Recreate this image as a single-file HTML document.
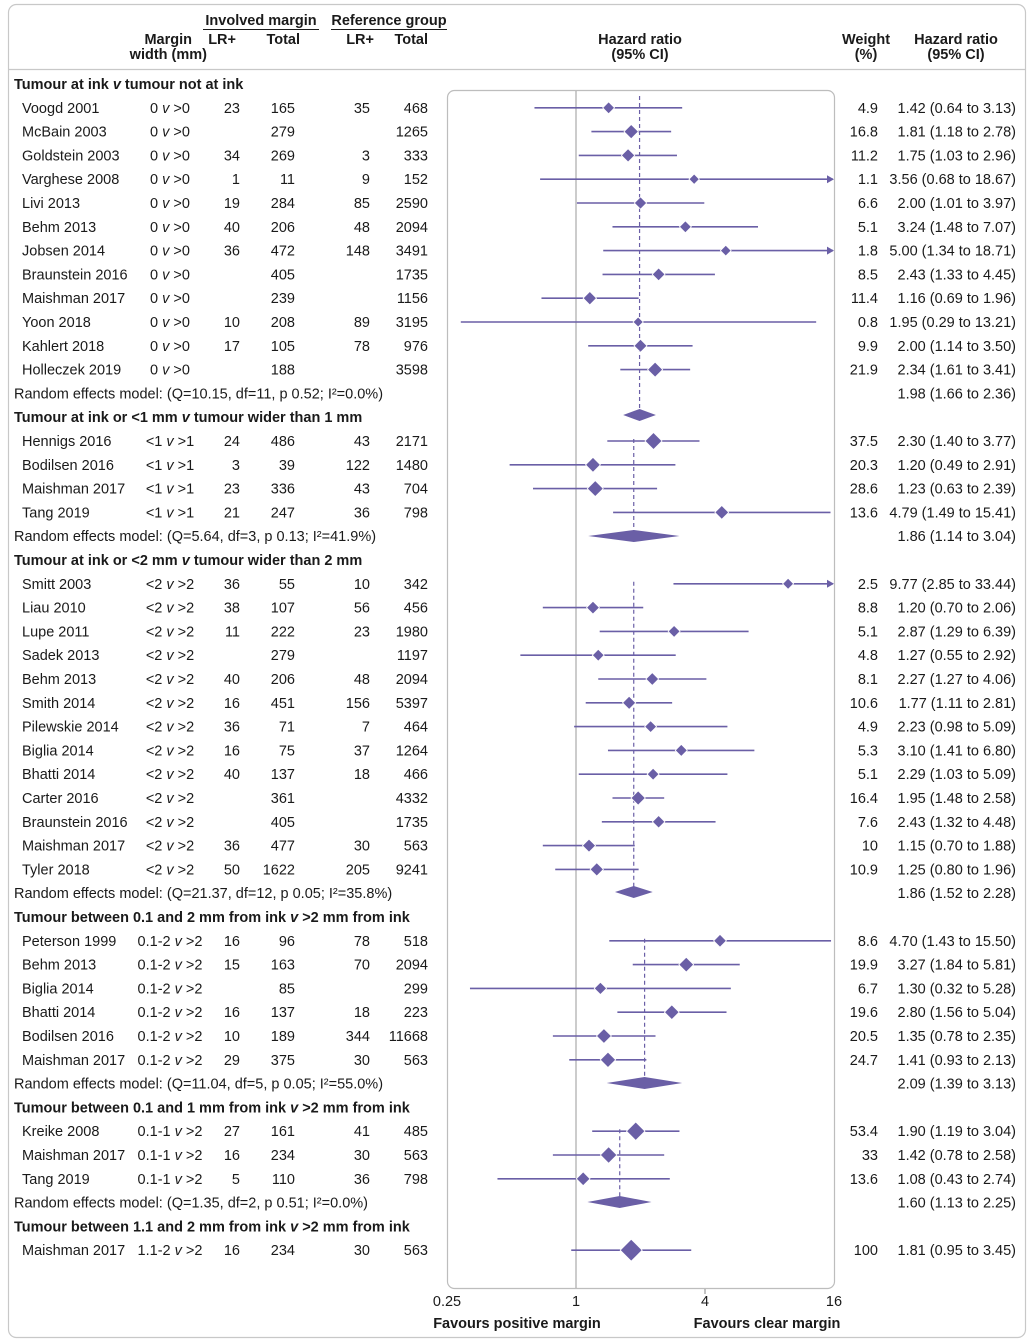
<!DOCTYPE html>
<html><head><meta charset="utf-8"><style>
body{margin:0;background:#fff;}
svg{display:block;font-family:"Liberation Sans",sans-serif;}
</style></head><body>
<svg id="c" width="1034" height="1342" xmlns="http://www.w3.org/2000/svg"></svg>
<script>
// type: h=heading, s=study, r=random-effects
const rowTypes=["h","s","s","s","s","s","s","s","s","s","s","s","s","r","h","s","s","s","s","r","h","s","s","s","s","s","s","s","s","s","s","s","s","s","r","h","s","s","s","s","s","s","r","h","s","s","s","r","h","s"];
const labels=["Tumour at ink v tumour not at ink","Voogd 2001","McBain 2003","Goldstein 2003","Varghese 2008","Livi 2013","Behm 2013","Jobsen 2014","Braunstein 2016","Maishman 2017","Yoon 2018","Kahlert 2018","Holleczek 2019","Random effects model: (Q=10.15, df=11, p 0.52; I²=0.0%)",
"Tumour at ink or <1 mm v tumour wider than 1 mm","Hennigs 2016","Bodilsen 2016","Maishman 2017","Tang 2019","Random effects model: (Q=5.64, df=3, p 0.13; I²=41.9%)",
"Tumour at ink or <2 mm v tumour wider than 2 mm","Smitt 2003","Liau 2010","Lupe 2011","Sadek 2013","Behm 2013","Smith 2014","Pilewskie 2014","Biglia 2014","Bhatti 2014","Carter 2016","Braunstein 2016","Maishman 2017","Tyler 2018","Random effects model: (Q=21.37, df=12, p 0.05; I²=35.8%)",
"Tumour between 0.1 and 2 mm from ink v >2 mm from ink","Peterson 1999","Behm 2013","Biglia 2014","Bhatti 2014","Bodilsen 2016","Maishman 2017","Random effects model: (Q=11.04, df=5, p 0.05; I²=55.0%)",
"Tumour between 0.1 and 1 mm from ink v >2 mm from ink","Kreike 2008","Maishman 2017","Tang 2019","Random effects model: (Q=1.35, df=2, p 0.51; I²=0.0%)",
"Tumour between 1.1 and 2 mm from ink v >2 mm from ink","Maishman 2017"];
const margins=["","0 v >0","0 v >0","0 v >0","0 v >0","0 v >0","0 v >0","0 v >0","0 v >0","0 v >0","0 v >0","0 v >0","0 v >0","","","<1 v >1","<1 v >1","<1 v >1","<1 v >1","","","<2 v >2","<2 v >2","<2 v >2","<2 v >2","<2 v >2","<2 v >2","<2 v >2","<2 v >2","<2 v >2","<2 v >2","<2 v >2","<2 v >2","<2 v >2","","","0.1-2 v >2","0.1-2 v >2","0.1-2 v >2","0.1-2 v >2","0.1-2 v >2","0.1-2 v >2","","","0.1-1 v >2","0.1-1 v >2","0.1-1 v >2","","","1.1-2 v >2"];
const invLR=["","23","","34","1","19","40","36","","","10","17","","","","24","3","23","21","","","36","38","11","","40","16","36","16","40","","","36","50","","","16","15","","16","10","29","","","27","16","5","","","16"];
const invTot=["","165","279","269","11","284","206","472","405","239","208","105","188","","","486","39","336","247","","","55","107","222","279","206","451","71","75","137","361","405","477","1622","","","96","163","85","137","189","375","","","161","234","110","","","234"];
const refLR=["","35","","3","9","85","48","148","","","89","78","","","","43","122","43","36","","","10","56","23","","48","156","7","37","18","","","30","205","","","78","70","","18","344","30","","","41","30","36","","","30"];
const refTot=["","468","1265","333","152","2590","2094","3491","1735","1156","3195","976","3598","","","2171","1480","704","798","","","342","456","1980","1197","2094","5397","464","1264","466","4332","1735","563","9241","","","518","2094","299","223","11668","563","","","485","563","798","","","563"];
const weights=["","4.9","16.8","11.2","1.1","6.6","5.1","1.8","8.5","11.4","0.8","9.9","21.9","","","37.5","20.3","28.6","13.6","","","2.5","8.8","5.1","4.8","8.1","10.6","4.9","5.3","5.1","16.4","7.6","10","10.9","","","8.6","19.9","6.7","19.6","20.5","24.7","","","53.4","33","13.6","","","100"];
const hr=[0,1.42,1.81,1.75,3.56,2.00,3.24,5.00,2.43,1.16,1.95,2.00,2.34,1.98,0,2.30,1.20,1.23,4.79,1.86,0,9.77,1.20,2.87,1.27,2.27,1.77,2.23,3.10,2.29,1.95,2.43,1.15,1.25,1.86,0,4.70,3.27,1.30,2.80,1.35,1.41,2.09,0,1.90,1.42,1.08,1.60,0,1.81];
const lo=[0,0.64,1.18,1.03,0.68,1.01,1.48,1.34,1.33,0.69,0.29,1.14,1.61,1.66,0,1.40,0.49,0.63,1.49,1.14,0,2.85,0.70,1.29,0.55,1.27,1.11,0.98,1.41,1.03,1.48,1.32,0.70,0.80,1.52,0,1.43,1.84,0.32,1.56,0.78,0.93,1.39,0,1.19,0.78,0.43,1.13,0,0.95];
const hi=[0,3.13,2.78,2.96,18.67,3.97,7.07,18.71,4.45,1.96,13.21,3.50,3.41,2.36,0,3.77,2.91,2.39,15.41,3.04,0,33.44,2.06,6.39,2.92,4.06,2.81,5.09,6.80,5.09,2.58,4.48,1.88,1.96,2.28,0,15.50,5.81,5.28,5.04,2.35,2.13,3.13,0,3.04,2.58,2.74,2.25,0,3.45];
const pooledRow=[13,19,34,42,47];
const pooledDiamondY=[415,536,892,1083,1202];
const groupFirst=[1,15,21,36,44];
const tickVals=[0.25,1,4,16];
const tickLabels=["0.25","1","4","16"];

const NS="http://www.w3.org/2000/svg";
const svg=document.getElementById('c');
const PUR="#6a5fa6", TXT="#1a1a1a";
const X=v=>576+64.5*Math.log2(v);
const rowY=i=>84+23.8*i;
function el(t,a,p){const e=document.createElementNS(NS,t);for(const k in a)e.setAttribute(k,a[k]);(p||svg).appendChild(e);return e;}
function txt(x,y,s,o){o=o||{};const e=el('text',{x:x,y:y,'font-size':o.fs||14.5,fill:TXT,'text-anchor':o.a||'start','font-weight':o.b?'bold':'normal'});e.textContent=s;return e;}
function fmt(v){return v.toFixed(2);}

const fr=el('rect',{x:8.5,y:4.5,width:1017,height:1333,rx:8,fill:'none',stroke:'#c8c8c8','stroke-width':1.2});


const sep=el('line',{x1:8,x2:1026,y1:69.5,y2:69.5,stroke:'#c8c8c8','stroke-width':1.2});



let h;
h=txt(261,25,"Involved margin",{b:1,a:'middle'});
el('line',{x1:203,x2:319,y1:29.5,y2:29.5,stroke:TXT,'stroke-width':1});
h=txt(389,25,"Reference group",{b:1,a:'middle'});
el('line',{x1:331,x2:447,y1:29.5,y2:29.5,stroke:TXT,'stroke-width':1});
h=txt(192,44,"Margin",{b:1,a:'end'});
txt(207,59,"width (mm)",{b:1,a:'end'});
h=txt(236,44,"LR+",{b:1,a:'end'});
h=txt(300,44,"Total",{b:1,a:'end'});
h=txt(374,44,"LR+",{b:1,a:'end'});
h=txt(428,44,"Total",{b:1,a:'end'});
h=txt(640,44,"Hazard ratio",{b:1,a:'middle'});
txt(640,59,"(95% CI)",{b:1,a:'middle'});
h=txt(866,44,"Weight",{b:1,a:'middle'});
txt(866,59,"(%)",{b:1,a:'middle'});
h=txt(956,44,"Hazard ratio",{b:1,a:'middle'});
txt(956,59,"(95% CI)",{b:1,a:'middle'});

const pb=el('rect',{x:447.5,y:90.5,width:387,height:1198,rx:7,fill:'none',stroke:'#bdbdbd','stroke-width':1.2});


const ref=el('line',{x1:X(1),x2:X(1),y1:91,y2:1288,stroke:'#aaa','stroke-width':1.2});


tickVals.forEach((v,i)=>{
  if(v===4) el('line',{x1:X(v),x2:X(v),y1:1289,y2:1294,stroke:'#888'});
  const t=txt(X(v),1306,tickLabels[i],{a:'middle'});
  
  
});
h=txt(517,1328,"Favours positive margin",{b:1,a:'middle'});
h=txt(767,1328,"Favours clear margin",{b:1,a:'middle'});

pooledRow.forEach((pr,g)=>{
  const x=X(hr[pr]);
  const y1=g===0?96:rowY(groupFirst[g])-2;
  const d=el('line',{x1:x,x2:x,y1:y1,y2:pooledDiamondY[g],stroke:PUR,'stroke-width':1.2,'stroke-dasharray':'4,3'});
  
  
});

rowTypes.forEach((t,i)=>{
  const y=rowY(i), ty=y+5;
  if(t==='h'){
    const parts=labels[i].split(' v ');
    const e=el('text',{x:14,y:ty,'font-size':14.5,fill:TXT,'font-weight':'bold'});
    const a=el('tspan',{},e);a.textContent=parts[0]+' ';
    const b=el('tspan',{'font-style':'italic'},e);b.textContent='v';
    const c=el('tspan',{},e);c.textContent=' '+parts[1];
    
    
    return;
  }
  if(t==='r'){
    const e=txt(14,ty,labels[i]);
    
    
    const g=pooledRow.indexOf(i), dy=pooledDiamondY[g];
    const p=el('polygon',{points:`${X(lo[i])},${dy} ${X(hr[i])},${dy-6} ${X(hi[i])},${dy} ${X(hr[i])},${dy+6}`,fill:PUR});
    
    
    const v=txt(1016,ty,`${fmt(hr[i])} (${fmt(lo[i])} to ${fmt(hi[i])})`,{a:'end'});
    
    
    return;
  }
  const n=txt(22,ty,labels[i]);
  
  
  const m=margins[i].split(' v ');
  const mt=el('text',{x:170,y:ty,'font-size':14.5,fill:TXT,'text-anchor':'middle'});
  mt.textContent=m[0]+' ';
  const it=el('tspan',{'font-style':'italic'},mt);it.textContent='v';
  const rest=el('tspan',{},mt);rest.textContent=' '+m[1];
  
  
  [[invLR,240,'involved-lr'],[invTot,295,'involved-total'],[refLR,370,'reference-lr'],[refTot,428,'reference-total'],[weights,878,'weight']].forEach(c=>{
    if(c[0][i]){const e=txt(c[1],ty,c[0][i],{a:'end'});
    
    }
  });
  const v=txt(1016,ty,`${fmt(hr[i])} (${fmt(lo[i])} to ${fmt(hi[i])})`,{a:'end'});
  
  
  const xl=Math.max(X(lo[i]),448), over=hi[i]>16, xr=over?X(16)-1:X(hi[i]);
  const ci=el('line',{x1:xl,x2:xr,y1:y,y2:y,stroke:PUR,'stroke-width':1.6});
  
  
  if(over){const a=el('polygon',{points:`${X(16)},${y} ${X(16)-7},${y-4} ${X(16)-7},${y+4}`,fill:PUR});
    
    }
  const s=4.5+0.65*Math.sqrt(parseFloat(weights[i])), cx=X(hr[i]);
  const mk=el('polygon',{points:`${cx-s},${y} ${cx},${y-s} ${cx+s},${y} ${cx},${y+s}`,fill:PUR,stroke:'#fff','stroke-width':0.8});
  
  
});
</script>
</body></html>
